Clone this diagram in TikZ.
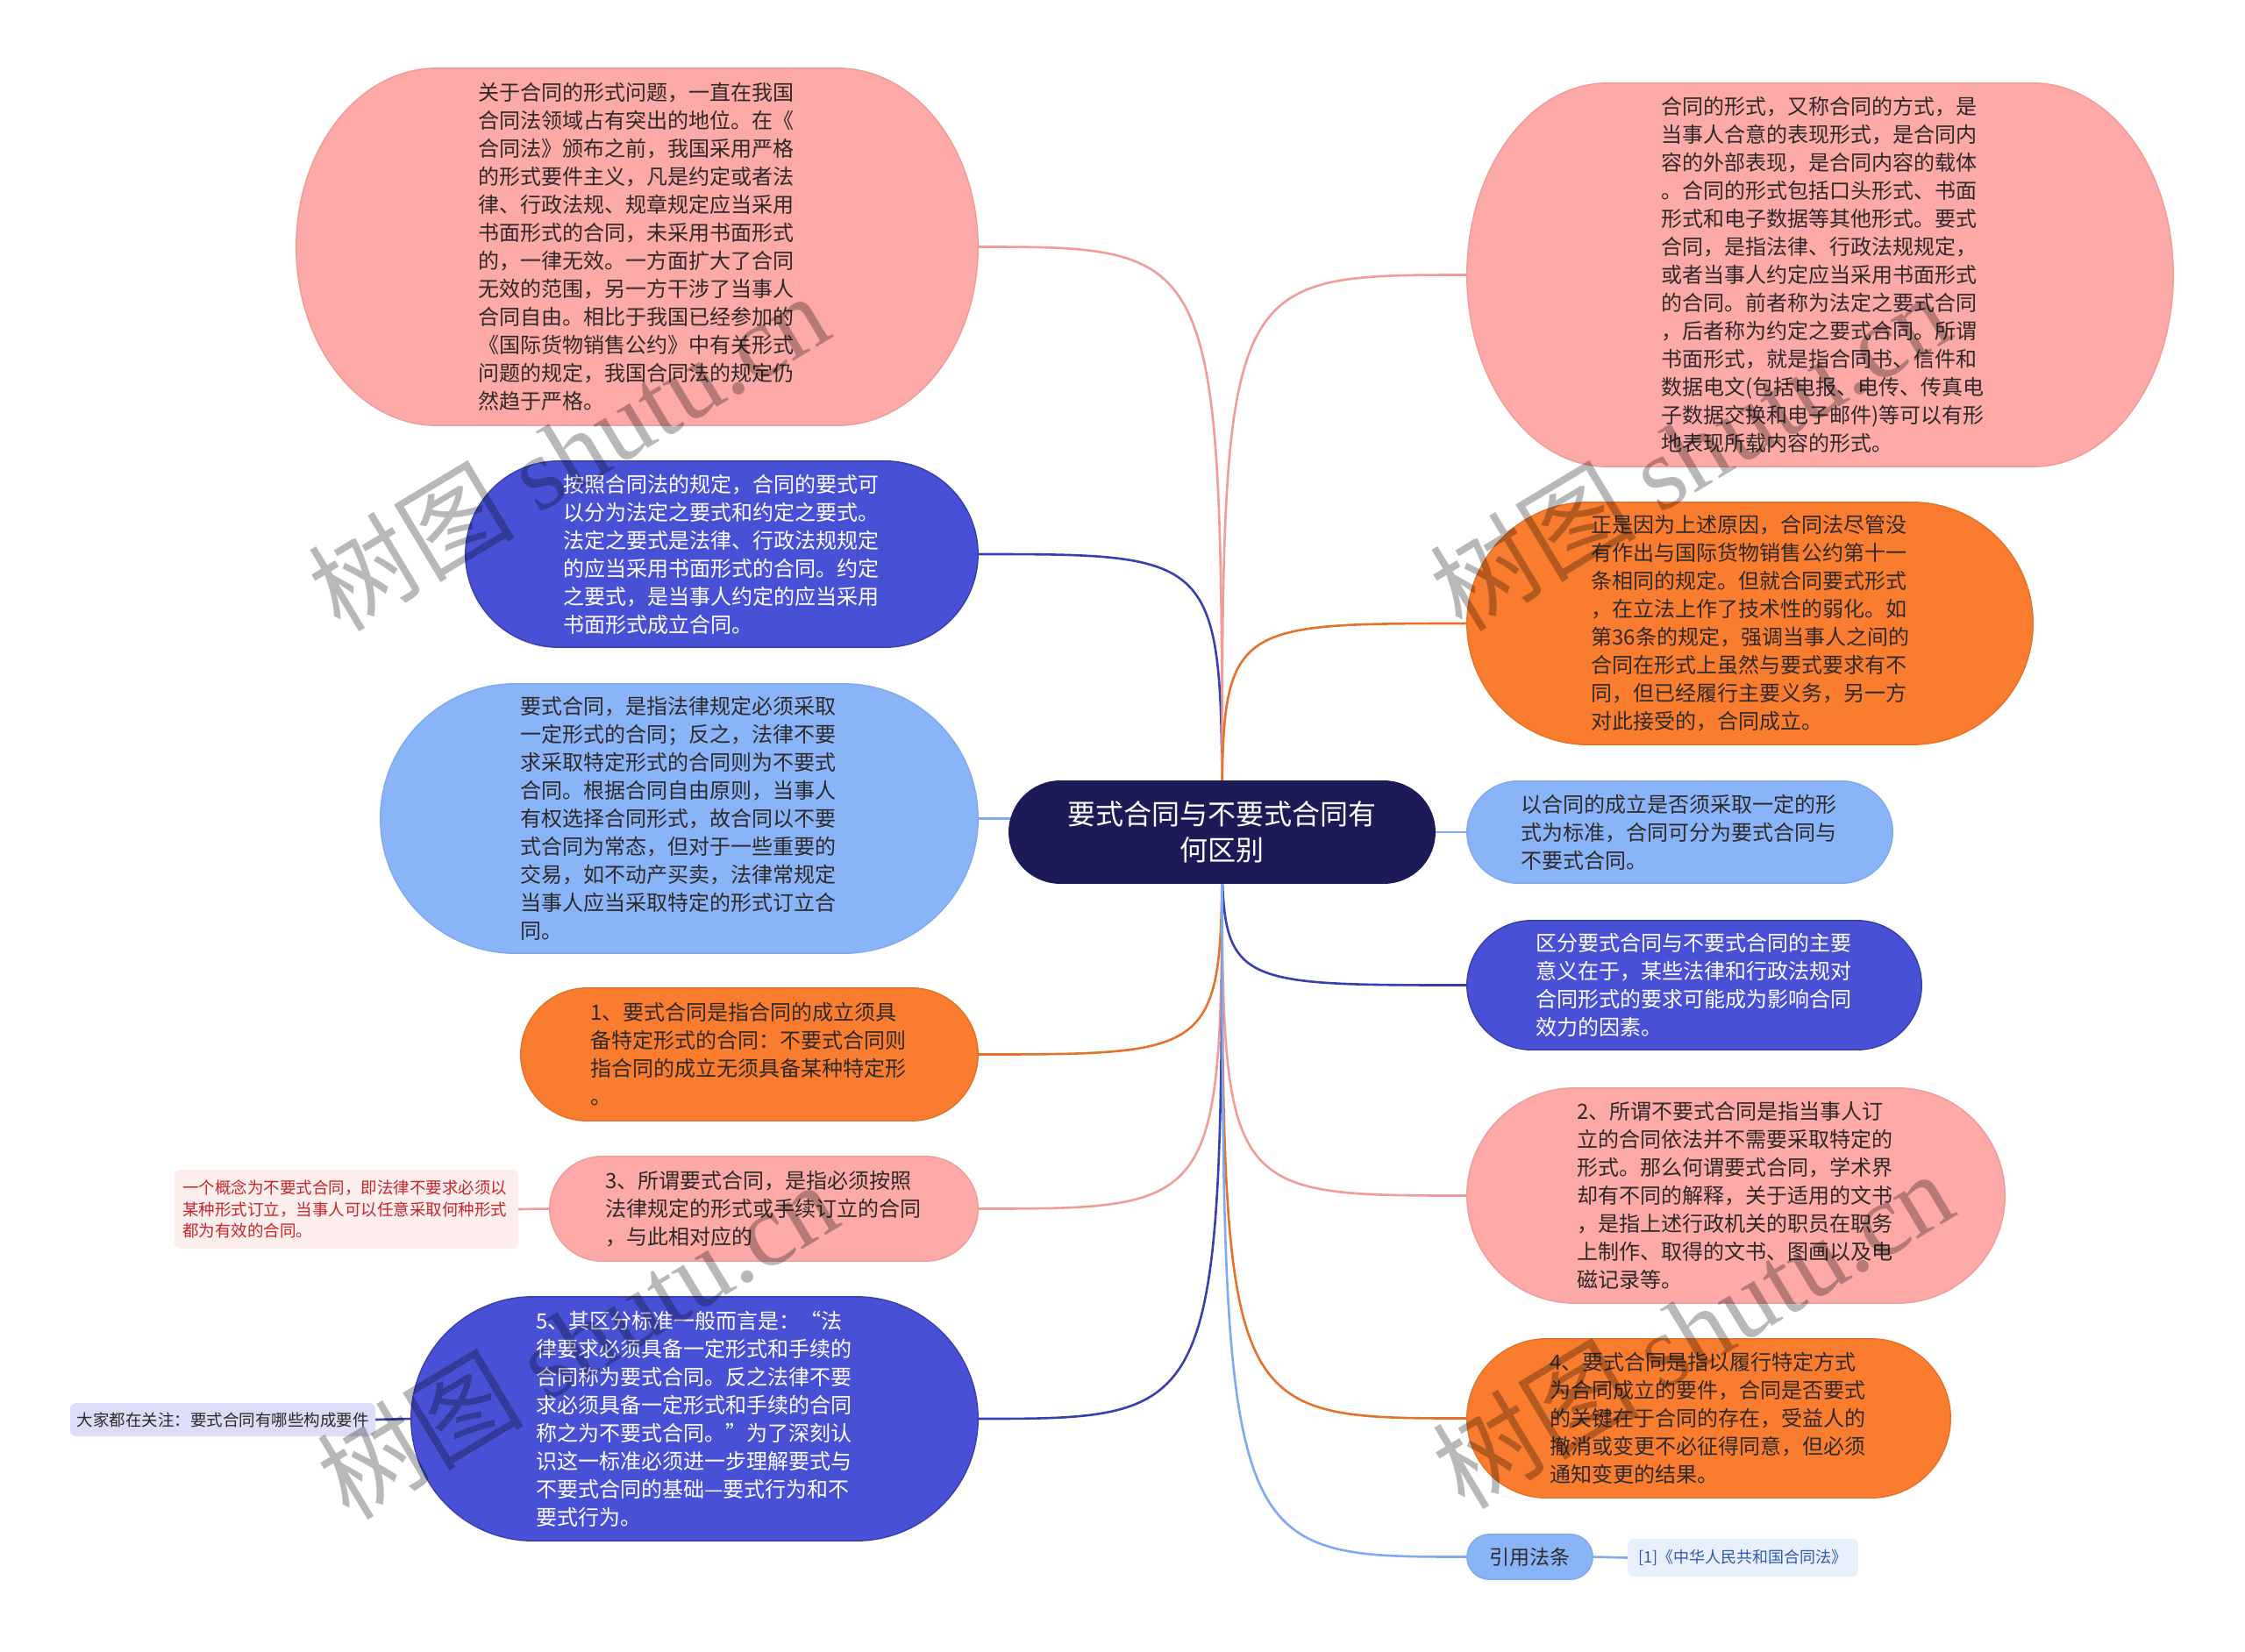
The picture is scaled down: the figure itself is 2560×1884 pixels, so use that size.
\documentclass[tikz,border=0pt]{standalone}
\usepackage{fontspec}
\newfontfamily\cjk{Noto Sans CJK SC}
\newfontfamily\wmfont{Liberation Serif}
\usetikzlibrary{calc}
\pgfdeclarelayer{bgl}
\pgfdeclarelayer{edges}
\pgfdeclarelayer{pills}
\pgfdeclarelayer{top}
\pgfsetlayers{bgl,edges,pills,main,top}

\definecolor{pinkF}{HTML}{FCA9A7}
\definecolor{pinkD}{HTML}{F29C99}
\definecolor{blueF}{HTML}{4851D6}
\definecolor{blueD}{HTML}{3A3FAE}
\definecolor{lblueF}{HTML}{8AB4F8}
\definecolor{lblueD}{HTML}{7FA9F0}
\definecolor{orgF}{HTML}{FA7D2F}
\definecolor{orgD}{HTML}{E5722A}
\definecolor{navyF}{HTML}{1C1B57}
\definecolor{darktxt}{HTML}{2E2A2A}
\definecolor{noteredF}{HTML}{FDEEEE}
\definecolor{noteredT}{HTML}{C4262A}
\definecolor{notelavF}{HTML}{DDDDF7}
\definecolor{noteblueF}{HTML}{E8F0FD}
\definecolor{noteblueT}{HTML}{2D5BA8}

\newcommand\pillbg[3]{%
  \begin{pgfonlayer}{pills}
  \path[fill=#2,draw=#3,line width=1.5pt]
    let \p1=(#1.south west), \p2=(#1.north east),
        \n1={(\y2-\y1)/2}, \n2={min(\n1,160pt)} in
    ({\x1+\n2},\y1) -- ({\x2-\n2},\y1)
    arc[start angle=-90,end angle=90,x radius=\n2,y radius=\n1]
    -- ({\x1+\n2},\y2)
    arc[start angle=90,end angle=270,x radius=\n2,y radius=\n1] -- cycle;
  \end{pgfonlayer}}

\tikzset{
  txt/.style={inner sep=0pt, align=left, text width=362pt,
    font=\cjk\fontsize{24}{32}\selectfont},
  dk/.style={text=darktxt},
  wt/.style={text=white},
  edge/.style={line width=2.6pt},
  note/.style={inner sep=0pt, rounded corners=7pt, align=left,
    font=\cjk\fontsize{18.5}{24.5}\selectfont},
  wm/.style={text=black, opacity=0.28, font=\fontsize{118}{130}\selectfont, rotate=31}
}

\begin{document}
\begin{tikzpicture}[x=1pt,y=-1pt]
\useasboundingbox (0,0) rectangle (2560,1884);
\begin{pgfonlayer}{bgl}
\fill[white] (0,0) rectangle (2560,1884);
\end{pgfonlayer}

% centre
\node[inner sep=0pt, minimum width=485pt, minimum height=116pt, align=center,
  text=white, font=\cjk\fontsize{32}{41}\selectfont] (ctr) at (1393.5,949)
  {要式合同与不要式合同有\\何区别};
\pillbg{ctr}{navyF}{navyF}

% left side
\node[txt,dk,minimum width=777pt,minimum height=407pt] (L1) at (726.5,281.5)
{关于合同的形式问题，一直在我国\\合同法领域占有突出的地位。在《\\合同法》颁布之前，我国采用严格\\的形式要件主义，凡是约定或者法\\律、行政法规、规章规定应当采用\\书面形式的合同，未采用书面形式\\的，一律无效。一方面扩大了合同\\无效的范围，另一方干涉了当事人\\合同自由。相比于我国已经参加的\\《国际货物销售公约》中有关形式\\问题的规定，我国合同法的规定仍\\然趋于严格。};
\pillbg{L1}{pinkF}{pinkD}

\node[txt,wt,minimum width=584pt,minimum height=212pt] (L2) at (823,632)
{按照合同法的规定，合同的要式可\\以分为法定之要式和约定之要式。\\法定之要式是法律、行政法规规定\\的应当采用书面形式的合同。约定\\之要式，是当事人约定的应当采用\\书面形式成立合同。};
\pillbg{L2}{blueF}{blueD}

\node[txt,dk,minimum width=681pt,minimum height=307pt] (L3) at (774.5,933.5)
{要式合同，是指法律规定必须采取\\一定形式的合同；反之，法律不要\\求采取特定形式的合同则为不要式\\合同。根据合同自由原则，当事人\\有权选择合同形式，故合同以不要\\式合同为常态，但对于一些重要的\\交易，如不动产买卖，法律常规定\\当事人应当采取特定的形式订立合\\同。};
\pillbg{L3}{lblueF}{lblueD}

\node[txt,dk,minimum width=521pt,minimum height=151pt] (L4) at (854.5,1202.5)
{1、要式合同是指合同的成立须具\\备特定形式的合同：不要式合同则\\指合同的成立无须具备某种特定形\\。};
\pillbg{L4}{orgF}{orgD}

\node[txt,dk,minimum width=488pt,minimum height=119pt] (L5) at (871,1378.5)
{3、所谓要式合同，是指必须按照\\法律规定的形式或手续订立的合同\\，与此相对应的};
\pillbg{L5}{pinkF}{pinkD}

\node[note,fill=noteredF,text=noteredT,text width=374pt,minimum width=392pt,minimum height=90pt]
  (L5n) at (395,1379)
{一个概念为不要式合同，即法律不要求必须以\\某种形式订立，当事人可以任意采取何种形式\\都为有效的合同。};

\node[txt,wt,minimum width=646pt,minimum height=278pt] (L6) at (792,1618)
{5、其区分标准一般而言是：“法\\律要求必须具备一定形式和手续的\\合同称为要式合同。反之法律不要\\求必须具备一定形式和手续的合同\\称之为不要式合同。”为了深刻认\\识这一标准必须进一步理解要式与\\不要式合同的基础—要式行为和不\\要式行为。};
\pillbg{L6}{blueF}{blueD}

\node[note,fill=notelavF,text=darktxt,align=center,minimum width=348pt,minimum height=38pt]
  (L6n) at (254,1619) {大家都在关注：要式合同有哪些构成要件};

% right side
\node[txt,dk,minimum width=805pt,minimum height=437pt] (R1) at (2075.5,313.5)
{合同的形式，又称合同的方式，是\\当事人合意的表现形式，是合同内\\容的外部表现，是合同内容的载体\\。合同的形式包括口头形式、书面\\形式和电子数据等其他形式。要式\\合同，是指法律、行政法规规定，\\或者当事人约定应当采用书面形式\\的合同。前者称为法定之要式合同\\，后者称为约定之要式合同。所谓\\书面形式，就是指合同书、信件和\\数据电文(包括电报、电传、传真电\\子数据交换和电子邮件)等可以有形\\地表现所载内容的形式。};
\pillbg{R1}{pinkF}{pinkD}

\node[txt,dk,minimum width=645pt,minimum height=276pt] (R2) at (1995.5,711)
{正是因为上述原因，合同法尽管没\\有作出与国际货物销售公约第十一\\条相同的规定。但就合同要式形式\\，在立法上作了技术性的弱化。如\\第36条的规定，强调当事人之间的\\合同在形式上虽然与要式要求有不\\同，但已经履行主要义务，另一方\\对此接受的，合同成立。};
\pillbg{R2}{orgF}{orgD}

\node[txt,dk,minimum width=485pt,minimum height=116pt] (R3) at (1915.5,949)
{以合同的成立是否须采取一定的形\\式为标准，合同可分为要式合同与\\不要式合同。};
\pillbg{R3}{lblueF}{lblueD}

\node[txt,wt,minimum width=518pt,minimum height=147pt] (R4) at (1932,1123.5)
{区分要式合同与不要式合同的主要\\意义在于，某些法律和行政法规对\\合同形式的要求可能成为影响合同\\效力的因素。};
\pillbg{R4}{blueF}{blueD}

\node[txt,dk,minimum width=613pt,minimum height=245pt] (R5) at (1979.5,1363.5)
{2、所谓不要式合同是指当事人订\\立的合同依法并不需要采取特定的\\形式。那么何谓要式合同，学术界\\却有不同的解释，关于适用的文书\\，是指上述行政机关的职员在职务\\上制作、取得的文书、图画以及电\\磁记录等。};
\pillbg{R5}{pinkF}{pinkD}

\node[txt,dk,minimum width=551pt,minimum height=181pt] (R6) at (1948.5,1617.5)
{4、要式合同是指以履行特定方式\\为合同成立的要件，合同是否要式\\的关键在于合同的存在，受益人的\\撤消或变更不必征得同意，但必须\\通知变更的结果。};
\pillbg{R6}{orgF}{orgD}

\node[inner sep=0pt,minimum width=143pt,minimum height=51pt,text=darktxt,
  font=\cjk\fontsize{23}{28}\selectfont] (R7) at (1744.5,1775.5) {引用法条};
\pillbg{R7}{lblueF}{lblueD}

\node[note,fill=noteblueF,text=noteblueT,align=center,minimum width=263pt,minimum height=43pt,
  font=\cjk\fontsize{18}{24}\selectfont] (R7n) at (1987.5,1776.5) {[1]《中华人民共和国合同法》};

% connectors
\begin{pgfonlayer}{edges}
\draw[edge,pinkD]  (ctr.center) .. controls (ctr.center |- L1.east) .. (L1.east);
\draw[edge,blueD]  (ctr.center) .. controls (ctr.center |- L2.east) .. (L2.east);
\draw[edge,lblueD] (ctr.center) .. controls (ctr.center |- L3.east) .. (L3.east);
\draw[edge,orgD]   (ctr.center) .. controls (ctr.center |- L4.east) .. (L4.east);
\draw[edge,pinkD]  (ctr.center) .. controls (ctr.center |- L5.east) .. (L5.east);
\draw[edge,blueD]  (ctr.center) .. controls (ctr.center |- L6.east) .. (L6.east);
\draw[edge,pinkD]  (ctr.center) .. controls (ctr.center |- R1.west) .. (R1.west);
\draw[edge,orgD]   (ctr.center) .. controls (ctr.center |- R2.west) .. (R2.west);
\draw[edge,lblueD] (ctr.center) .. controls (ctr.center |- R3.west) .. (R3.west);
\draw[edge,blueD]  (ctr.center) .. controls (ctr.center |- R4.west) .. (R4.west);
\draw[edge,pinkD]  (ctr.center) .. controls (ctr.center |- R5.west) .. (R5.west);
\draw[edge,orgD]   (ctr.center) .. controls (ctr.center |- R6.west) .. (R6.west);
\draw[edge,lblueD] (ctr.center) .. controls (ctr.center |- R7.west) .. (R7.west);
\draw[edge,pinkD]  (L5.west) -- (L5n.east);
\draw[edge,blueD]  (L6.west) -- (L6n.east);
\draw[edge,lblueD] (R7.east) -- (R7n.west);
\end{pgfonlayer}

% watermarks
\begin{pgfonlayer}{top}
\node[wm] (wm1) at (648,514) {\cjk 树图\ \wmfont shutu.cn};
\node[wm] (wm2) at (1927,514) {\cjk 树图\ \wmfont shutu.cn};
\node[wm] (wm3) at (658,1527) {\cjk 树图\ \wmfont shutu.cn};
\node[wm] (wm4) at (1930,1515) {\cjk 树图\ \wmfont shutu.cn};
\end{pgfonlayer}
\end{tikzpicture}
\end{document}
